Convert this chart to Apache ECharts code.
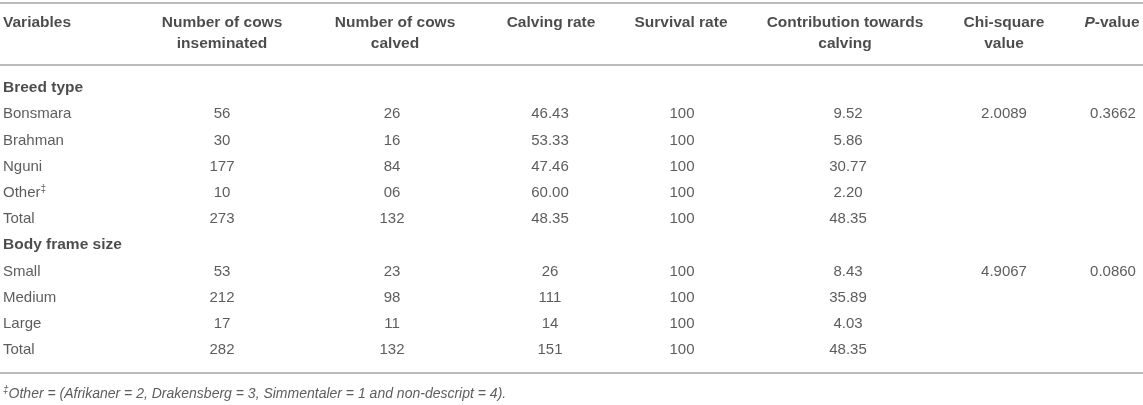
<!DOCTYPE html>
<html><head><meta charset="utf-8">
<script src="https://cdn.jsdelivr.net/npm/echarts@6/dist/echarts.min.js"></script>
<style>html,body{margin:0;padding:0;background:#fff}#c{width:1143px;height:405px}</style>
</head><body><div id="c"></div>
<script>
// ---- data ----
const headerLine1 = ['Variables', 'Number of cows', 'Number of cows', 'Calving rate', 'Survival rate', 'Contribution towards', 'Chi-square', '{bi|P}{b|-value}'];
const headerLine2 = ['', 'inseminated', 'calved', '', '', 'calving', 'value', ''];
const groupTitles = ['Breed type', 'Body frame size'];

const breedRows = ['Bonsmara', 'Brahman', 'Nguni', 'Other{sup|‡}', 'Total'];
const breedInseminated = ['56', '30', '177', '10', '273'];
const breedCalved = ['26', '16', '84', '06', '132'];
const breedCalvingRate = ['46.43', '53.33', '47.46', '60.00', '48.35'];
const breedSurvival = ['100', '100', '100', '100', '100'];
const breedContribution = ['9.52', '5.86', '30.77', '2.20', '48.35'];
const breedChiSquare = ['2.0089', '', '', '', ''];
const breedPValue = ['0.3662', '', '', '', ''];

const frameRows = ['Small', 'Medium', 'Large', 'Total'];
const frameInseminated = ['53', '212', '17', '282'];
const frameCalved = ['23', '98', '11', '132'];
const frameCalvingRate = ['26', '111', '14', '151'];
const frameSurvival = ['100', '100', '100', '100'];
const frameContribution = ['8.43', '35.89', '4.03', '48.35'];
const frameChiSquare = ['4.9067', '', '', ''];
const framePValue = ['0.0860', '', '', ''];

const footnote = '{fsup|‡}{fit|Other = (Afrikaner = 2, Drakensberg = 3, Simmentaler = 1 and non-descript = 4).}';

// ---- layout ----
const W = 1143, H = 405;
const headX = [3, 222, 395, 551, 681, 845, 1004, 1112];
const colX = [3, 222, 392, 550, 682, 848, 1004, 1113];
const headY = [22.7, 43.3];
const row0Y = 88, rowStep = 26.2;
const rulesY = [2.5, 65, 372.5];
const footY = 394;
const FONT = '"Liberation Sans", Arial, Helvetica, sans-serif';
const bodyColor = '#333';
const headColor = '#1e1e1e';
const HEAD_SIZE = 15.5, BODY_SIZE = 15;

const items = [];
function cell(x, y, text, align, style) {
  if (text === '') return;
  items.push({
    value: [x, y],
    label: Object.assign({ formatter: text, align: align }, style || {})
  });
}
const boldStyle = { fontWeight: 'bold', color: headColor, fontSize: HEAD_SIZE };

// headers
headerLine1.forEach((t, c) => cell(headX[c], headY[0], t, c === 0 ? 'left' : 'center', boldStyle));
headerLine2.forEach((t, c) => cell(headX[c], headY[1], t, c === 0 ? 'left' : 'center', boldStyle));

// body
const breedCols = [breedRows, breedInseminated, breedCalved, breedCalvingRate, breedSurvival, breedContribution, breedChiSquare, breedPValue];
const frameCols = [frameRows, frameInseminated, frameCalved, frameCalvingRate, frameSurvival, frameContribution, frameChiSquare, framePValue];
let r = 0;
[[groupTitles[0], breedCols], [groupTitles[1], frameCols]].forEach(([title, cols]) => {
  cell(colX[0], row0Y + r * rowStep, title, 'left', boldStyle);
  r++;
  for (let i = 0; i < cols[0].length; i++) {
    cols.forEach((col, c) => cell(colX[c], row0Y + r * rowStep, col[i], c === 0 ? 'left' : 'center'));
    r++;
  }
});
cell(colX[0], footY, footnote, 'left');

const chart = echarts.init(document.getElementById('c'), null, { renderer: 'canvas' });
chart.setOption({
  animation: false,
  backgroundColor: '#fff',
  grid: { left: 0, right: 0, top: 0, bottom: 0 },
  xAxis: { type: 'value', min: 0, max: W, show: false },
  yAxis: { type: 'value', min: 0, max: H, inverse: true, show: false },
  series: [{
    type: 'scatter',
    symbolSize: 0,
    silent: true,
    data: items,
    label: {
      show: true,
      position: 'inside',
      verticalAlign: 'middle',
      fontFamily: FONT,
      fontSize: BODY_SIZE,
      color: bodyColor,
      lineHeight: 18,
      rich: {
        b: { fontFamily: FONT, fontSize: HEAD_SIZE, fontWeight: 'bold', color: headColor, lineHeight: 18 },
        bi: { fontFamily: FONT, fontSize: HEAD_SIZE, fontWeight: 'bold', fontStyle: 'italic', color: headColor, lineHeight: 18 },
        sup: { fontFamily: FONT, fontSize: 10, color: bodyColor, lineHeight: 10, verticalAlign: 'top' },
        fsup: { fontFamily: FONT, fontSize: 10, fontStyle: 'italic', color: bodyColor, lineHeight: 10, verticalAlign: 'top' },
        fit: { fontFamily: FONT, fontSize: 14, fontStyle: 'italic', color: bodyColor, lineHeight: 18 }
      }
    },
    markLine: {
      silent: true,
      symbol: 'none',
      label: { show: false },
      lineStyle: { color: '#bcbcbc', width: 2, type: 'solid' },
      data: rulesY.map(v => ({ yAxis: v }))
    }
  }]
});
</script></body></html>
